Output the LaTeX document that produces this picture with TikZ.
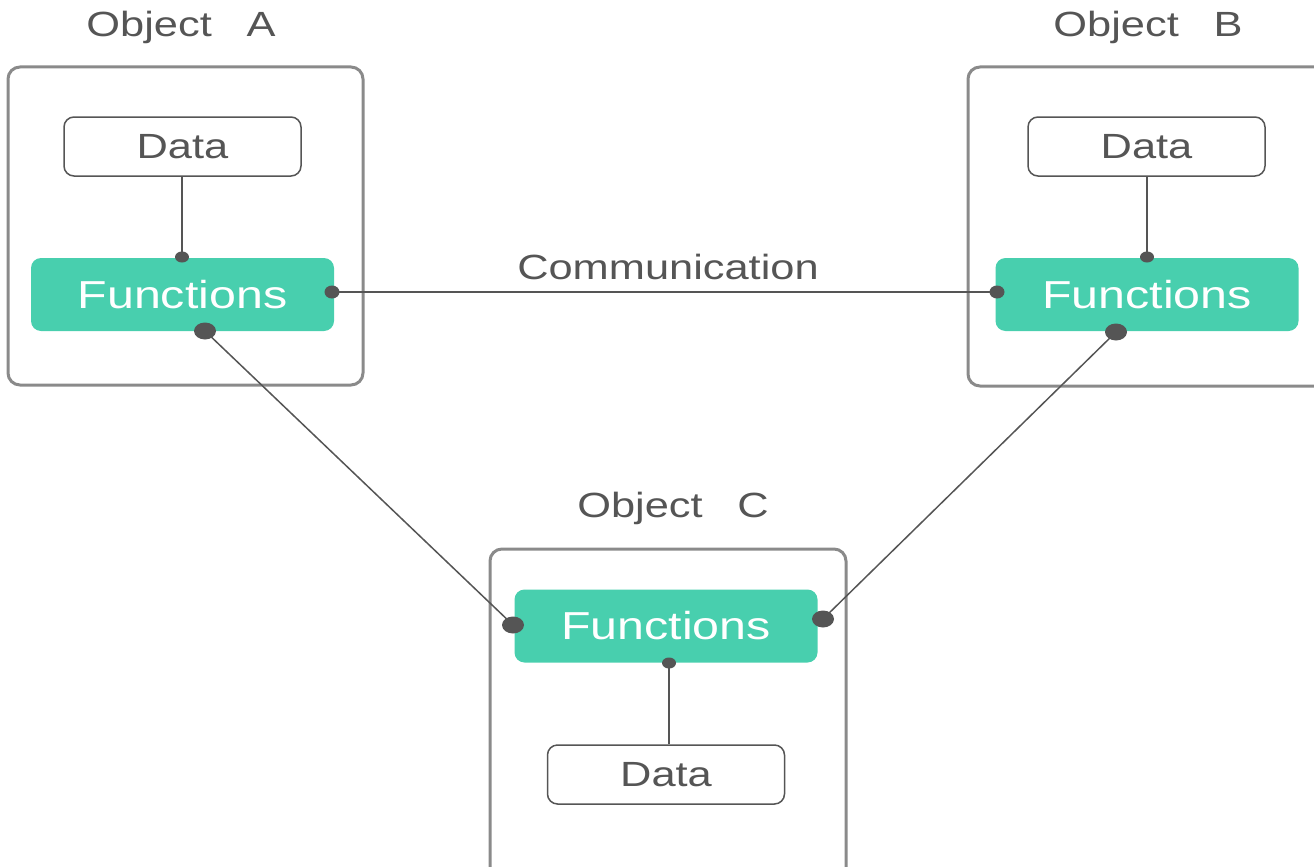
\documentclass[tikz,border=0pt]{standalone}
\usepackage{fontspec}
\setmainfont{Liberation Sans}
\usetikzlibrary{shapes.geometric}
\definecolor{teala}{HTML}{48CFAE}
\definecolor{textgray}{HTML}{555555}
\definecolor{linegray}{HTML}{555555}
\definecolor{objgray}{HTML}{8A8A8A}
\newcommand{\wtxt}[1]{\scalebox{1.24}[1]{#1}}
\begin{document}
\begin{tikzpicture}[x=1pt,y=-1pt,
 objbox/.style={draw=objgray, line width=3pt, rounded corners=12pt, inner sep=0pt},
 databox/.style={draw=linegray, line width=1.5pt, rounded corners=10pt, fill=white, minimum width=237pt, minimum height=59pt, inner sep=0pt, font=\fontsize{35}{40}\selectfont, text=textgray},
 funcbox/.style={fill=teala, rounded corners=10pt, minimum width=303pt, minimum height=73pt, inner sep=0pt, font=\fontsize{39}{44}\selectfont, text=white},
 objlabel/.style={anchor=base, font=\fontsize{35}{40}\selectfont, text=textgray, inner sep=0pt},
 conn/.style={draw=linegray, line width=1.5pt},
 dotsmall/.style={ellipse, fill=linegray, minimum width=14pt, minimum height=11pt, inner sep=0pt},
 dotmid/.style={ellipse, fill=linegray, minimum width=15pt, minimum height=13pt, inner sep=0pt},
 dotbig/.style={ellipse, fill=linegray, minimum width=22pt, minimum height=17pt, inner sep=0pt}
]
\useasboundingbox (0,0) rectangle (1314,867);
\clip (0,0) rectangle (1314,867);

% object frames
\node[objbox, minimum width=355pt, minimum height=318pt] (oa) at (185.5,226) {};
\node[objbox, minimum width=360pt, minimum height=319pt] (ob) at (1148,226.5) {};
\node[objbox, minimum width=356pt, minimum height=340pt] (oc) at (668,719) {};

% object labels
\node[objlabel] (la) at (181,37) {\wtxt{Object\hspace{0.8em}A}};
\node[objlabel] (lb) at (1148,37) {\wtxt{Object\hspace{0.8em}B}};
\node[objlabel] (lc) at (673,517) {\wtxt{Object\hspace{0.8em}C}};

% data boxes
\node[databox] (da) at (182.5,146.5) {\wtxt{Data}};
\node[databox] (db) at (1146.5,146.5) {\wtxt{Data}};
\node[databox] (dc) at (666,774.5) {\wtxt{Data}};

% function boxes
\node[funcbox] (fa) at (182.5,294.5) {\wtxt{Functions}};
\node[funcbox] (fb) at (1147,294.5) {\wtxt{Functions}};
\node[funcbox] (fc) at (666,626) {\wtxt{Functions}};

% dot positions
\coordinate (pa1) at (182,257);
\coordinate (pa2) at (332,292);
\coordinate (pa3) at (205,331);
\coordinate (pb1) at (1147,257);
\coordinate (pb2) at (997,292);
\coordinate (pb3) at (1116,332);
\coordinate (pc1) at (513,625);
\coordinate (pc2) at (823,619);
\coordinate (pc3) at (669,663);

% connectors
\draw[conn] (da.south -| pa1) -- (pa1);
\draw[conn] (db.south -| pb1) -- (pb1);
\draw[conn] (dc.north -| pc3) -- (pc3);
\draw[conn] (pa2) -- (pb2);
\draw[conn] (pa3) -- (pc1);
\draw[conn] (pb3) -- (pc2);

% dots
\node[dotsmall] (ka1) at (pa1) {};
\node[dotmid]   (ka2) at (pa2) {};
\node[dotbig]   (ka3) at (pa3) {};
\node[dotsmall] (kb1) at (pb1) {};
\node[dotmid]   (kb2) at (pb2) {};
\node[dotbig]   (kb3) at (pb3) {};
\node[dotbig]   (kc1) at (pc1) {};
\node[dotbig]   (kc2) at (pc2) {};
\node[dotsmall] (kc3) at (pc3) {};

\node[anchor=base, font=\fontsize{35}{40}\selectfont, text=textgray, inner sep=0pt] (comm) at (668,279) {\wtxt{Communication}};
\end{tikzpicture}
\end{document}
